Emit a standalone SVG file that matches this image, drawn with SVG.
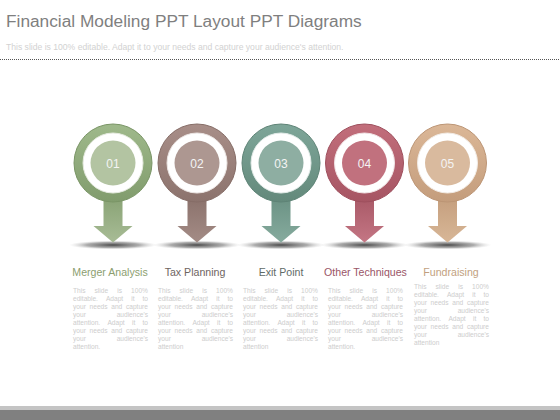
<svg xmlns="http://www.w3.org/2000/svg" width="560" height="420" viewBox="0 0 560 420">
<defs>
<style>
.title{font-family:"Liberation Sans",Arial,sans-serif;font-size:17.3px;fill:#7f7f7f}
.sub{font-family:"Liberation Sans",Arial,sans-serif;font-size:8.6px;fill:#d2d2d2}
.num{font-family:"Liberation Sans",Arial,sans-serif;font-size:12px;fill:#f4f4f4;text-anchor:middle}
.lbl{font-family:"Liberation Sans",Arial,sans-serif;font-size:10.6px;text-anchor:middle}
.body{font-family:"Liberation Sans",Arial,sans-serif;font-size:6.6px;fill:#cdcdcd}
.white{fill:#ffffff}
</style>
<radialGradient id="shadow" cx="0.5" cy="0.5" r="0.5">
<stop offset="0" stop-color="#4a4a4a"/>
<stop offset="0.6" stop-color="#8a8a8a" stop-opacity="0.7"/>
<stop offset="1" stop-color="#cccccc" stop-opacity="0"/>
</radialGradient>
<linearGradient id="ringG1" x1="0" y1="0" x2="0" y2="1"><stop offset="0" stop-color="#9fb98b"/><stop offset="1" stop-color="#819c6d"/></linearGradient>
<linearGradient id="ringG2" x1="0" y1="0" x2="0" y2="1"><stop offset="0" stop-color="#a88e88"/><stop offset="1" stop-color="#8c736d"/></linearGradient>
<linearGradient id="ringG3" x1="0" y1="0" x2="0" y2="1"><stop offset="0" stop-color="#7ea699"/><stop offset="1" stop-color="#63897b"/></linearGradient>
<linearGradient id="ringG4" x1="0" y1="0" x2="0" y2="1"><stop offset="0" stop-color="#c26e7b"/><stop offset="1" stop-color="#a65563"/></linearGradient>
<linearGradient id="ringG5" x1="0" y1="0" x2="0" y2="1"><stop offset="0" stop-color="#dbb797"/><stop offset="1" stop-color="#c49d7c"/></linearGradient>
<linearGradient id="arrG1" x1="0" y1="0" x2="0" y2="1"><stop offset="0" stop-color="#88a274"/><stop offset="1" stop-color="#a8bc96"/></linearGradient>
<linearGradient id="arrG2" x1="0" y1="0" x2="0" y2="1"><stop offset="0" stop-color="#8a716b"/><stop offset="1" stop-color="#a48c86"/></linearGradient>
<linearGradient id="arrG3" x1="0" y1="0" x2="0" y2="1"><stop offset="0" stop-color="#6a9183"/><stop offset="1" stop-color="#86ab9e"/></linearGradient>
<linearGradient id="arrG4" x1="0" y1="0" x2="0" y2="1"><stop offset="0" stop-color="#a85866"/><stop offset="1" stop-color="#c47684"/></linearGradient>
<linearGradient id="arrG5" x1="0" y1="0" x2="0" y2="1"><stop offset="0" stop-color="#c49e7d"/><stop offset="1" stop-color="#d8b797"/></linearGradient>
</defs>
<rect width="560" height="420" fill="#ffffff"/>
<text class="title" x="6" y="27">Financial Modeling PPT Layout PPT Diagrams</text>
<text class="sub" x="6" y="50">This slide is 100% editable. Adapt it to your needs and capture your  audience's attention.</text>
<line x1="0" y1="59.5" x2="560" y2="59.5" stroke="#555555" stroke-width="1" stroke-dasharray="1 1"/>
<g id="connectors"/>
<g id="node1">
<ellipse cx="113" cy="245" rx="44" ry="4.5" fill="url(#shadow)"/>
<path d="M103.5,196 H122.5 V226 H132.5 L113,242.5 L93.5,226 H103.5 Z" fill="url(#arrG1)"/>
<circle cx="113" cy="163" r="39" fill="url(#ringG1)" stroke="#7a9566" stroke-width="1"/>
<circle cx="113" cy="163" r="30" class="white" stroke="#e6ebe0" stroke-width="1"/>
<circle cx="113" cy="163" r="22.5" fill="#b3c4a2"/>
<text class="num" x="113" y="167.5">01</text>
<text class="lbl" x="110" y="276" fill="#8c9e70">Merger Analysis</text>
<g class="body">
<text y="293"><tspan x="73">This</tspan><tspan x="94.57">slide</tspan><tspan x="117.24">is</tspan><tspan x="131.12">100%</tspan></text>
<text y="301"><tspan x="73">editable.</tspan><tspan x="105.95">Adapt</tspan><tspan x="131.2">it</tspan><tspan x="142.5">to</tspan></text>
<text y="309"><tspan x="73">your</tspan><tspan x="89.56">needs</tspan><tspan x="111.26">and</tspan><tspan x="125.99">capture</tspan></text>
<text y="317"><tspan x="73">your</tspan><tspan x="116.66">audience's</tspan></text>
<text y="325"><tspan x="73">attention.</tspan><tspan x="107.42">Adapt</tspan><tspan x="131.94">it</tspan><tspan x="142.5">to</tspan></text>
<text y="333"><tspan x="73">your</tspan><tspan x="89.56">needs</tspan><tspan x="111.26">and</tspan><tspan x="125.99">capture</tspan></text>
<text y="341"><tspan x="73">your</tspan><tspan x="116.66">audience's</tspan></text>
<text x="73" y="349">attention.</text>
</g>
</g>
<g id="node2">
<ellipse cx="197" cy="245" rx="44" ry="4.5" fill="url(#shadow)"/>
<path d="M187.5,196 H206.5 V226 H216.5 L197,242.5 L177.5,226 H187.5 Z" fill="url(#arrG2)"/>
<circle cx="197" cy="163" r="39" fill="url(#ringG2)" stroke="#866d67" stroke-width="1"/>
<circle cx="197" cy="163" r="30" class="white" stroke="#ece6e4" stroke-width="1"/>
<circle cx="197" cy="163" r="22.5" fill="#ad9791"/>
<text class="num" x="197" y="167.5">02</text>
<text class="lbl" x="195" y="276" fill="#6e6461">Tax Planning</text>
<g class="body">
<text y="293"><tspan x="158">This</tspan><tspan x="179.57">slide</tspan><tspan x="202.24">is</tspan><tspan x="216.12">100%</tspan></text>
<text y="301"><tspan x="158">editable.</tspan><tspan x="190.95">Adapt</tspan><tspan x="216.2">it</tspan><tspan x="227.5">to</tspan></text>
<text y="309"><tspan x="158">your</tspan><tspan x="174.56">needs</tspan><tspan x="196.26">and</tspan><tspan x="210.99">capture</tspan></text>
<text y="317"><tspan x="158">your</tspan><tspan x="201.66">audience's</tspan></text>
<text y="325"><tspan x="158">attention.</tspan><tspan x="192.42">Adapt</tspan><tspan x="216.94">it</tspan><tspan x="227.5">to</tspan></text>
<text y="333"><tspan x="158">your</tspan><tspan x="174.56">needs</tspan><tspan x="196.26">and</tspan><tspan x="210.99">capture</tspan></text>
<text y="341"><tspan x="158">your</tspan><tspan x="201.66">audience's</tspan></text>
<text x="158" y="349">attention</text>
</g>
</g>
<g id="node3">
<ellipse cx="281" cy="245" rx="44" ry="4.5" fill="url(#shadow)"/>
<path d="M271.5,196 H290.5 V226 H300.5 L281,242.5 L261.5,226 H271.5 Z" fill="url(#arrG3)"/>
<circle cx="281" cy="163" r="39" fill="url(#ringG3)" stroke="#5e8376" stroke-width="1"/>
<circle cx="281" cy="163" r="30" class="white" stroke="#e2ebe8" stroke-width="1"/>
<circle cx="281" cy="163" r="22.5" fill="#8eaea2"/>
<text class="num" x="281" y="167.5">03</text>
<text class="lbl" x="281" y="276" fill="#5f6b67">Exit Point</text>
<g class="body">
<text y="293"><tspan x="243">This</tspan><tspan x="264.57">slide</tspan><tspan x="287.24">is</tspan><tspan x="301.12">100%</tspan></text>
<text y="301"><tspan x="243">editable.</tspan><tspan x="275.95">Adapt</tspan><tspan x="301.2">it</tspan><tspan x="312.5">to</tspan></text>
<text y="309"><tspan x="243">your</tspan><tspan x="259.56">needs</tspan><tspan x="281.26">and</tspan><tspan x="295.99">capture</tspan></text>
<text y="317"><tspan x="243">your</tspan><tspan x="286.66">audience's</tspan></text>
<text y="325"><tspan x="243">attention.</tspan><tspan x="277.42">Adapt</tspan><tspan x="301.94">it</tspan><tspan x="312.5">to</tspan></text>
<text y="333"><tspan x="243">your</tspan><tspan x="259.56">needs</tspan><tspan x="281.26">and</tspan><tspan x="295.99">capture</tspan></text>
<text y="341"><tspan x="243">your</tspan><tspan x="286.66">audience's</tspan></text>
<text x="243" y="349">attention</text>
</g>
</g>
<g id="node4">
<ellipse cx="364.5" cy="245" rx="44" ry="4.5" fill="url(#shadow)"/>
<path d="M355,196 H374 V226 H384 L364.5,242.5 L345,226 H355 Z" fill="url(#arrG4)"/>
<circle cx="364.5" cy="163" r="39" fill="url(#ringG4)" stroke="#9e4f5d" stroke-width="1"/>
<circle cx="364.5" cy="163" r="30" class="white" stroke="#f0e2e4" stroke-width="1"/>
<circle cx="364.5" cy="163" r="22.5" fill="#c1717e"/>
<text class="num" x="364.5" y="167.5">04</text>
<text class="lbl" x="365.5" y="276" fill="#9a5567">Other Techniques</text>
<g class="body">
<text y="293"><tspan x="328">This</tspan><tspan x="349.57">slide</tspan><tspan x="372.24">is</tspan><tspan x="386.12">100%</tspan></text>
<text y="301"><tspan x="328">editable.</tspan><tspan x="360.95">Adapt</tspan><tspan x="386.2">it</tspan><tspan x="397.5">to</tspan></text>
<text y="309"><tspan x="328">your</tspan><tspan x="344.56">needs</tspan><tspan x="366.26">and</tspan><tspan x="380.99">capture</tspan></text>
<text y="317"><tspan x="328">your</tspan><tspan x="371.66">audience's</tspan></text>
<text y="325"><tspan x="328">attention.</tspan><tspan x="362.42">Adapt</tspan><tspan x="386.94">it</tspan><tspan x="397.5">to</tspan></text>
<text y="333"><tspan x="328">your</tspan><tspan x="344.56">needs</tspan><tspan x="366.26">and</tspan><tspan x="380.99">capture</tspan></text>
<text y="341"><tspan x="328">your</tspan><tspan x="371.66">audience's</tspan></text>
<text x="328" y="349">attention.</text>
</g>
</g>
<g id="node5">
<ellipse cx="447.5" cy="245" rx="44" ry="4.5" fill="url(#shadow)"/>
<path d="M438,196 H457 V226 H467 L447.5,242.5 L428,226 H438 Z" fill="url(#arrG5)"/>
<circle cx="447.5" cy="163" r="39" fill="url(#ringG5)" stroke="#bc9575" stroke-width="1"/>
<circle cx="447.5" cy="163" r="30" class="white" stroke="#f2ebe4" stroke-width="1"/>
<circle cx="447.5" cy="163" r="22.5" fill="#d9ba9e"/>
<text class="num" x="447.5" y="167.5">05</text>
<text class="lbl" x="451" y="276" fill="#c29f7e">Fundraising</text>
<g class="body">
<text y="289"><tspan x="414">This</tspan><tspan x="435.57">slide</tspan><tspan x="458.24">is</tspan><tspan x="472.12">100%</tspan></text>
<text y="297"><tspan x="414">editable.</tspan><tspan x="446.95">Adapt</tspan><tspan x="472.2">it</tspan><tspan x="483.5">to</tspan></text>
<text y="305"><tspan x="414">your</tspan><tspan x="430.56">needs</tspan><tspan x="452.26">and</tspan><tspan x="466.99">capture</tspan></text>
<text y="313"><tspan x="414">your</tspan><tspan x="457.66">audience's</tspan></text>
<text y="321"><tspan x="414">attention.</tspan><tspan x="448.42">Adapt</tspan><tspan x="472.94">it</tspan><tspan x="483.5">to</tspan></text>
<text y="329"><tspan x="414">your</tspan><tspan x="430.56">needs</tspan><tspan x="452.26">and</tspan><tspan x="466.99">capture</tspan></text>
<text y="337"><tspan x="414">your</tspan><tspan x="457.66">audience's</tspan></text>
<text x="414" y="345">attention</text>
</g>
</g>
<rect x="0" y="406" width="560" height="4" fill="#c4c4c4"/>
<rect x="0" y="410" width="560" height="10" fill="#808080"/>
</svg>
